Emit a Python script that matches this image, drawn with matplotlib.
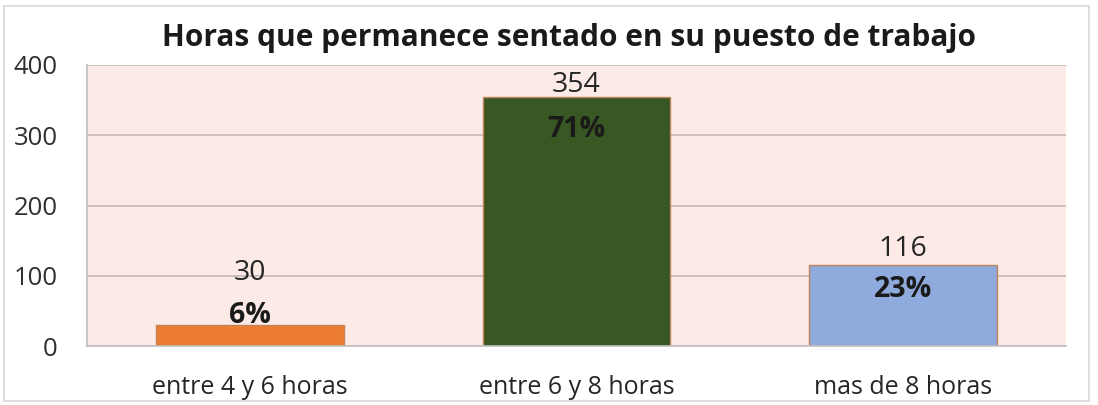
import matplotlib
matplotlib.use("Agg")
import matplotlib.pyplot as plt
from matplotlib.patches import Rectangle

categories = ["entre 4 y 6 horas", "entre 6 y 8 horas", "mas de 8 horas"]
values = [30, 354, 116]
percents = ["6%", "71%", "23%"]
colors = ["#ED7D31", "#385723", "#8FAADC"]
yticks = [0, 100, 200, 300, 400]
title = "Horas que permanece sentado en su puesto de trabajo"

# label offsets in pixels (value label above bar top, percent label)
value_off = [52, 12, 16]
pct_off = [9, -32, -25]

plt.rcParams['font.family'] = ['Open Sans', 'DejaVu Sans']
fig = plt.figure(figsize=(10.98, 4.05), dpi=100)
fig.patch.set_facecolor("white")
fig.add_artist(Rectangle((0.004, 0.01), 0.988, 0.975, transform=fig.transFigure,
                         fill=False, edgecolor="#D9D9D9", linewidth=1.2))
W, H = 1098, 405
x0, x1, ytop, ybot = 87, 1066, 65, 346
ax = fig.add_axes([x0 / W, 1 - ybot / H, (x1 - x0) / W, (ybot - ytop) / H])
ax.set_facecolor("#FBEAE6")
ax.set_xlim(-0.5, 2.5)
ax.set_ylim(0, 400)
ax.set_yticks(yticks)
ax.tick_params(axis='y', length=0, labelsize=18.5, pad=21, colors="#303030")
ax.tick_params(axis='x', length=0, labelsize=18, pad=21, colors="#262626")
ax.grid(axis='y', color="#C4B9B6", linewidth=1.2)
ax.set_axisbelow(True)
for s in ["top", "right"]:
    ax.spines[s].set_visible(False)
ax.spines["left"].set_color("#BFBFBF")
ax.spines["bottom"].set_color("#BFBFBF")
ax.spines["left"].set_linewidth(1.2)
ax.spines["bottom"].set_linewidth(1.2)

xs = range(len(categories))
ax.bar(xs, values, width=0.575, color=colors, edgecolor="#C0845A", linewidth=1)
ax.set_xticks(list(xs))
ax.set_xticklabels(categories)

for i, (v, p) in enumerate(zip(values, percents)):
    ax.annotate(str(v), (i, v), xytext=(0, value_off[i] * 0.72), textcoords="offset points",
                ha="center", va="center", fontsize=20.5, color="#262626")
    ax.annotate(p, (i, v), xytext=(0, pct_off[i] * 0.72), textcoords="offset points",
                ha="center", va="center", fontsize=20.5, fontweight="bold", color="#1a1a1a")

fig.text(0.518, 1 - 38 / H, title, ha="center", va="center", fontsize=21.5,
         fontweight="bold", color="#1a1a1a")

fig.savefig("out.png", dpi=100)
